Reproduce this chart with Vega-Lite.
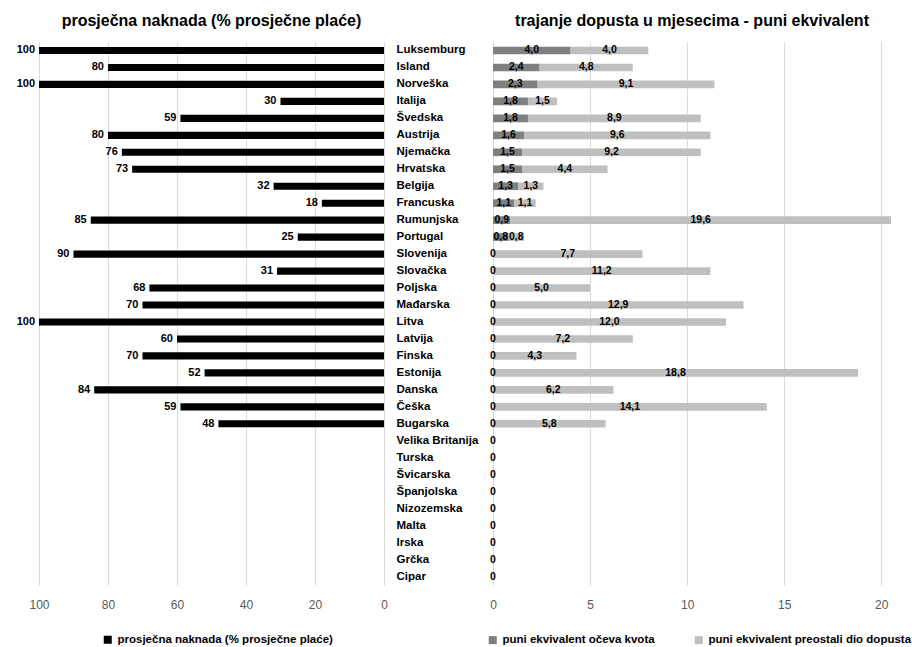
{
  "$schema": "https://vega.github.io/schema/vega-lite/v6.json",
  "background": "white",
  "padding": {"left": 16, "top": 13, "right": 5, "bottom": 2},
  "bounds": "flush",
  "spacing": 109,
  "resolve": {"scale": {"color": "independent", "x": "independent", "y": "independent"}, "legend": {"color": "independent"}},
  "config": {
    "locale": {"number": {"decimal": ",", "thousands": ".", "grouping": [3], "currency": ["", " €"]}},
    "font": "Liberation Sans",
    "view": {"stroke": null},
    "axis": {"labelFont": "Liberation Sans", "labelFontSize": 12, "labelColor": "#595959", "domain": false, "ticks": false, "gridColor": "#D9D9D9", "gridWidth": 1, "title": null, "labelFlush": false},
    "title": {"font": "Liberation Sans", "fontSize": 16, "fontWeight": "bold", "color": "#000000", "anchor": "middle", "offset": 13},
    "legend": {"labelFont": "Liberation Sans", "labelFontSize": 11.5, "labelFontWeight": "bold", "labelColor": "#000000", "symbolType": "square", "symbolSize": 64, "symbolStrokeWidth": 0, "title": null, "labelLimit": 400, "labelOffset": 4}
  },
  "datasets": {
    "naknada": [
      {"zemlja": "Luksemburg", "naknada": 100},
      {"zemlja": "Island", "naknada": 80},
      {"zemlja": "Norveška", "naknada": 100},
      {"zemlja": "Italija", "naknada": 30},
      {"zemlja": "Švedska", "naknada": 59},
      {"zemlja": "Austrija", "naknada": 80},
      {"zemlja": "Njemačka", "naknada": 76},
      {"zemlja": "Hrvatska", "naknada": 73},
      {"zemlja": "Belgija", "naknada": 32},
      {"zemlja": "Francuska", "naknada": 18},
      {"zemlja": "Rumunjska", "naknada": 85},
      {"zemlja": "Portugal", "naknada": 25},
      {"zemlja": "Slovenija", "naknada": 90},
      {"zemlja": "Slovačka", "naknada": 31},
      {"zemlja": "Poljska", "naknada": 68},
      {"zemlja": "Mađarska", "naknada": 70},
      {"zemlja": "Litva", "naknada": 100},
      {"zemlja": "Latvija", "naknada": 60},
      {"zemlja": "Finska", "naknada": 70},
      {"zemlja": "Estonija", "naknada": 52},
      {"zemlja": "Danska", "naknada": 84},
      {"zemlja": "Češka", "naknada": 59},
      {"zemlja": "Bugarska", "naknada": 48}
    ],
    "dopust": [
      {"zemlja": "Luksemburg", "dio": "puni ekvivalent očeva kvota", "trajanje": 4.0},
      {"zemlja": "Island", "dio": "puni ekvivalent očeva kvota", "trajanje": 2.4},
      {"zemlja": "Norveška", "dio": "puni ekvivalent očeva kvota", "trajanje": 2.3},
      {"zemlja": "Italija", "dio": "puni ekvivalent očeva kvota", "trajanje": 1.8},
      {"zemlja": "Švedska", "dio": "puni ekvivalent očeva kvota", "trajanje": 1.8},
      {"zemlja": "Austrija", "dio": "puni ekvivalent očeva kvota", "trajanje": 1.6},
      {"zemlja": "Njemačka", "dio": "puni ekvivalent očeva kvota", "trajanje": 1.5},
      {"zemlja": "Hrvatska", "dio": "puni ekvivalent očeva kvota", "trajanje": 1.5},
      {"zemlja": "Belgija", "dio": "puni ekvivalent očeva kvota", "trajanje": 1.3},
      {"zemlja": "Francuska", "dio": "puni ekvivalent očeva kvota", "trajanje": 1.1},
      {"zemlja": "Rumunjska", "dio": "puni ekvivalent očeva kvota", "trajanje": 0.9},
      {"zemlja": "Portugal", "dio": "puni ekvivalent očeva kvota", "trajanje": 0.8},
      {"zemlja": "Slovenija", "dio": "puni ekvivalent očeva kvota", "trajanje": 0},
      {"zemlja": "Slovačka", "dio": "puni ekvivalent očeva kvota", "trajanje": 0},
      {"zemlja": "Poljska", "dio": "puni ekvivalent očeva kvota", "trajanje": 0},
      {"zemlja": "Mađarska", "dio": "puni ekvivalent očeva kvota", "trajanje": 0},
      {"zemlja": "Litva", "dio": "puni ekvivalent očeva kvota", "trajanje": 0},
      {"zemlja": "Latvija", "dio": "puni ekvivalent očeva kvota", "trajanje": 0},
      {"zemlja": "Finska", "dio": "puni ekvivalent očeva kvota", "trajanje": 0},
      {"zemlja": "Estonija", "dio": "puni ekvivalent očeva kvota", "trajanje": 0},
      {"zemlja": "Danska", "dio": "puni ekvivalent očeva kvota", "trajanje": 0},
      {"zemlja": "Češka", "dio": "puni ekvivalent očeva kvota", "trajanje": 0},
      {"zemlja": "Bugarska", "dio": "puni ekvivalent očeva kvota", "trajanje": 0},
      {"zemlja": "Velika Britanija", "dio": "puni ekvivalent očeva kvota", "trajanje": 0},
      {"zemlja": "Turska", "dio": "puni ekvivalent očeva kvota", "trajanje": 0},
      {"zemlja": "Švicarska", "dio": "puni ekvivalent očeva kvota", "trajanje": 0},
      {"zemlja": "Španjolska", "dio": "puni ekvivalent očeva kvota", "trajanje": 0},
      {"zemlja": "Nizozemska", "dio": "puni ekvivalent očeva kvota", "trajanje": 0},
      {"zemlja": "Malta", "dio": "puni ekvivalent očeva kvota", "trajanje": 0},
      {"zemlja": "Irska", "dio": "puni ekvivalent očeva kvota", "trajanje": 0},
      {"zemlja": "Grčka", "dio": "puni ekvivalent očeva kvota", "trajanje": 0},
      {"zemlja": "Cipar", "dio": "puni ekvivalent očeva kvota", "trajanje": 0},
      {"zemlja": "Luksemburg", "dio": "puni ekvivalent preostali dio dopusta", "trajanje": 4.0},
      {"zemlja": "Island", "dio": "puni ekvivalent preostali dio dopusta", "trajanje": 4.8},
      {"zemlja": "Norveška", "dio": "puni ekvivalent preostali dio dopusta", "trajanje": 9.1},
      {"zemlja": "Italija", "dio": "puni ekvivalent preostali dio dopusta", "trajanje": 1.5},
      {"zemlja": "Švedska", "dio": "puni ekvivalent preostali dio dopusta", "trajanje": 8.9},
      {"zemlja": "Austrija", "dio": "puni ekvivalent preostali dio dopusta", "trajanje": 9.6},
      {"zemlja": "Njemačka", "dio": "puni ekvivalent preostali dio dopusta", "trajanje": 9.2},
      {"zemlja": "Hrvatska", "dio": "puni ekvivalent preostali dio dopusta", "trajanje": 4.4},
      {"zemlja": "Belgija", "dio": "puni ekvivalent preostali dio dopusta", "trajanje": 1.3},
      {"zemlja": "Francuska", "dio": "puni ekvivalent preostali dio dopusta", "trajanje": 1.1},
      {"zemlja": "Rumunjska", "dio": "puni ekvivalent preostali dio dopusta", "trajanje": 19.6},
      {"zemlja": "Portugal", "dio": "puni ekvivalent preostali dio dopusta", "trajanje": 0.8},
      {"zemlja": "Slovenija", "dio": "puni ekvivalent preostali dio dopusta", "trajanje": 7.7},
      {"zemlja": "Slovačka", "dio": "puni ekvivalent preostali dio dopusta", "trajanje": 11.2},
      {"zemlja": "Poljska", "dio": "puni ekvivalent preostali dio dopusta", "trajanje": 5.0},
      {"zemlja": "Mađarska", "dio": "puni ekvivalent preostali dio dopusta", "trajanje": 12.9},
      {"zemlja": "Litva", "dio": "puni ekvivalent preostali dio dopusta", "trajanje": 12.0},
      {"zemlja": "Latvija", "dio": "puni ekvivalent preostali dio dopusta", "trajanje": 7.2},
      {"zemlja": "Finska", "dio": "puni ekvivalent preostali dio dopusta", "trajanje": 4.3},
      {"zemlja": "Estonija", "dio": "puni ekvivalent preostali dio dopusta", "trajanje": 18.8},
      {"zemlja": "Danska", "dio": "puni ekvivalent preostali dio dopusta", "trajanje": 6.2},
      {"zemlja": "Češka", "dio": "puni ekvivalent preostali dio dopusta", "trajanje": 14.1},
      {"zemlja": "Bugarska", "dio": "puni ekvivalent preostali dio dopusta", "trajanje": 5.8}
    ]
  },
  "hconcat": [
    {
      "title": "prosječna naknada (% prosječne plaće)",
      "width": 345,
      "height": 543,
      "data": {"name": "naknada"},
      "encoding": {
        "y": {
          "field": "zemlja", "type": "nominal", "sort": null,
          "scale": {
            "domain": ["Luksemburg", "Island", "Norveška", "Italija", "Švedska", "Austrija", "Njemačka", "Hrvatska", "Belgija", "Francuska", "Rumunjska", "Portugal", "Slovenija", "Slovačka", "Poljska", "Mađarska", "Litva", "Latvija", "Finska", "Estonija", "Danska", "Češka", "Bugarska", "Velika Britanija", "Turska", "Švicarska", "Španjolska", "Nizozemska", "Malta", "Irska", "Grčka", "Cipar"],
            "paddingInner": 0.58, "paddingOuter": 0.29
          },
          "axis": {"orient": "right", "labelAlign": "left", "labelPadding": 12, "labelFontWeight": "bold", "labelColor": "#000000", "labelFontSize": 11.5, "grid": false}
        }
      },
      "layer": [
        {
          "mark": {"type": "bar"},
          "encoding": {
            "x": {"field": "naknada", "type": "quantitative", "scale": {"domain": [0, 100], "reverse": true, "nice": false}, "axis": {"values": [0, 20, 40, 60, 80, 100], "grid": true, "labelPadding": 14}},
            "color": {"datum": "prosječna naknada (% prosječne plaće)", "type": "nominal", "scale": {"range": ["#000000"]}, "legend": {"orient": "none", "legendX": 63, "legendY": 592, "direction": "horizontal"}}
          }
        },
        {
          "mark": {"type": "text", "align": "right", "baseline": "middle", "dx": -4, "fontWeight": "bold", "fontSize": 11, "color": "#000000"},
          "encoding": {
            "x": {"field": "naknada", "type": "quantitative"},
            "text": {"field": "naknada", "type": "quantitative", "format": "d"}
          }
        }
      ]
    },
    {
      "title": "trajanje dopusta u mjesecima - puni ekvivalent",
      "width": 398,
      "height": 543,
      "data": {"name": "dopust"},
      "encoding": {
        "y": {
          "field": "zemlja", "type": "nominal", "sort": null,
          "scale": {
            "domain": ["Luksemburg", "Island", "Norveška", "Italija", "Švedska", "Austrija", "Njemačka", "Hrvatska", "Belgija", "Francuska", "Rumunjska", "Portugal", "Slovenija", "Slovačka", "Poljska", "Mađarska", "Litva", "Latvija", "Finska", "Estonija", "Danska", "Češka", "Bugarska", "Velika Britanija", "Turska", "Švicarska", "Španjolska", "Nizozemska", "Malta", "Irska", "Grčka", "Cipar"],
            "paddingInner": 0.55, "paddingOuter": 0.275
          },
          "axis": null
        }
      },
      "layer": [
        {
          "mark": {"type": "bar"},
          "encoding": {
            "x": {"field": "trajanje", "type": "quantitative", "stack": "zero", "scale": {"domain": [0, 20.5], "nice": false}, "axis": {"values": [0, 5, 10, 15, 20], "grid": true, "labelPadding": 14}},
            "color": {"field": "dio", "type": "nominal", "scale": {"domain": ["puni ekvivalent očeva kvota", "puni ekvivalent preostali dio dopusta"], "range": ["#7F7F7F", "#BFBFBF"]}, "legend": {"orient": "none", "legendX": -6, "legendY": 592, "direction": "horizontal", "columns": 2, "columnPadding": 38}},
            "order": {"field": "dio", "type": "ordinal"}
          }
        },
        {
          "mark": {"type": "text", "baseline": "middle", "fontWeight": "bold", "fontSize": 10.5, "color": "#000000"},
          "encoding": {
            "x": {"field": "trajanje", "type": "quantitative", "stack": "zero", "bandPosition": 0.5},
            "detail": {"field": "dio", "type": "nominal"},
            "order": {"field": "dio", "type": "ordinal"},
            "text": {"condition": {"test": "datum.trajanje === 0", "value": "0"}, "field": "trajanje", "type": "quantitative", "format": ".1f"}
          }
        }
      ]
    }
  ]
}
